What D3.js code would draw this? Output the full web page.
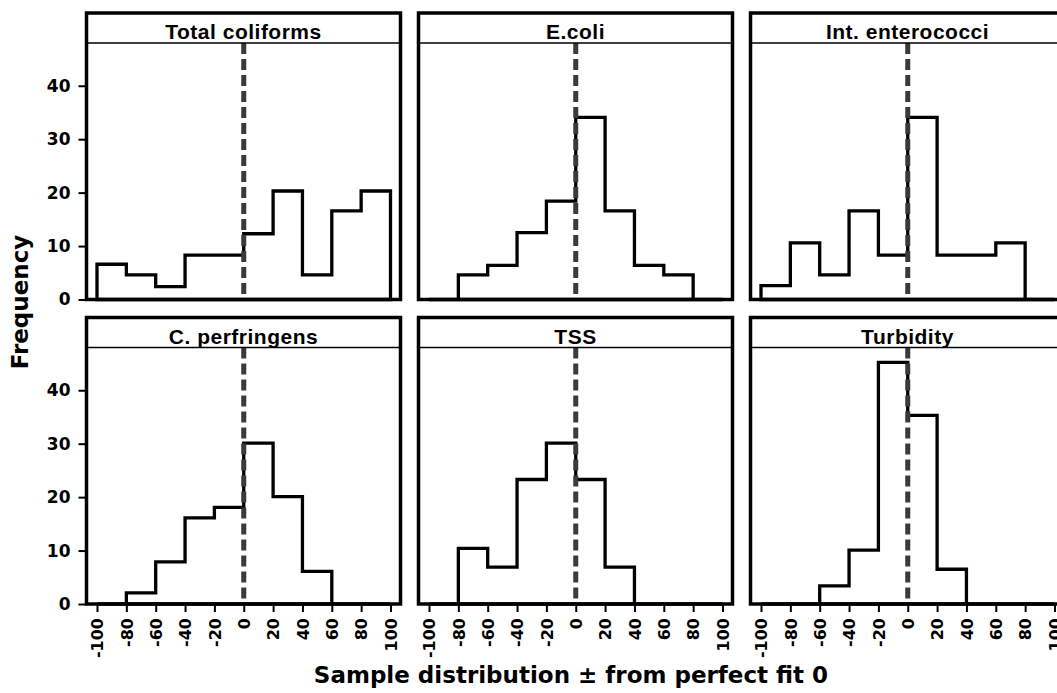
<!DOCTYPE html>
<html>
<head>
<meta charset="utf-8">
<script src="https://cdn.jsdelivr.net/npm/d3@7"></script>
<style>
body { margin: 0; background: #fff; }
</style>
</head>
<body>
<div id="container"></div>
<script>
// panel titles, in reading order
let titles = ["Total coliforms", "E.coli", "Int. enterococci", "C. perfringens", "TSS", "Turbidity"];

// frequency per 20-unit bin, from -100 to 100
let totalColiforms = [6.6, 4.6, 2.4, 8.3, 8.3, 12.3, 20.3, 4.6, 16.6, 20.3];
let eColi = [0, 4.6, 6.4, 12.5, 18.4, 34.1, 16.6, 6.4, 4.6, 0];
let enterococci = [2.6, 10.6, 4.6, 16.6, 8.3, 34.1, 8.3, 8.3, 10.6, 0];
let perfringens = [0, 2.1, 7.9, 16.1, 18.1, 30.1, 20.1, 6.1, 0, 0];
let tss = [0, 10.4, 6.9, 23.3, 30.1, 23.3, 6.9, 0, 0, 0];
let turbidity = [0, 0, 3.4, 10.1, 45.2, 35.3, 6.5, 0, 0, 0];

let binEdges = [-100, -80, -60, -40, -20, 0, 20, 40, 60, 80, 100];
let yTicks = [0, 10, 20, 30, 40];

let series = [totalColiforms, eColi, enterococci, perfringens, tss, turbidity];

let svg = d3.select('#container')
    .append("svg")
    .attr("width", 1057)
    .attr("height", 693);

let panelW = 314, panelH = 286.5, stripH = 30;
let colX = [86.5, 418.5, 750.5];
let rowY = [13, 317.5];

let x = d3.scaleLinear().domain([-100, 100]).range([10.5, 304]);
let y = d3.scaleLinear().domain([0, 48]).range([panelH, stripH]);

let line = d3.line().x(d => x(d[0])).y(d => y(d[1]));

series.forEach((values, i) => {
    let col = i % 3, row = Math.floor(i / 3);
    let g = svg.append("g")
        .attr("transform", "translate(" + colX[col] + "," + rowY[row] + ")");

    // step outline of the histogram
    let pts = [[binEdges[0], 0]];
    values.forEach((v, j) => {
        pts.push([binEdges[j], v]);
        pts.push([binEdges[j + 1], v]);
    });
    pts.push([binEdges[binEdges.length - 1], 0]);
    g.append("path")
        .attr("d", line(pts) + "Z")
        .attr("fill", "none")
        .attr("stroke", "#000")
        .attr("stroke-width", 3.3)
        .attr("stroke-linejoin", "miter");

    // reference line at 0
    g.append("line")
        .attr("x1", x(0)).attr("x2", x(0))
        .attr("y1", y(48)).attr("y2", y(0))
        .attr("stroke", "#3a3a3a")
        .attr("stroke-width", 5)
        .attr("stroke-dasharray", "11,5");

    // strip
    g.append("line")
        .attr("x1", 0).attr("x2", panelW)
        .attr("y1", stripH).attr("y2", stripH)
        .attr("stroke", "#000")
        .attr("stroke-width", 1.3);
    g.append("text")
        .attr("x", panelW / 2)
        .attr("y", stripH - 4)
        .attr("text-anchor", "middle")
        .attr("style", "font-family:'Liberation Sans',Arial,sans-serif;font-weight:bold;font-size:21px;letter-spacing:0.5px")
        .text(titles[i]);

    // frame
    g.append("rect")
        .attr("x", 0).attr("y", 0)
        .attr("width", panelW).attr("height", panelH)
        .attr("fill", "none")
        .attr("stroke", "#000")
        .attr("stroke-width", 3.5);

    if (col == 0) {
        let ya = g.append("g")
            .call(d3.axisLeft(y).tickValues(yTicks).tickSize(8).tickPadding(8));
        ya.select(".domain").remove();
        ya.selectAll("line").attr("stroke-width", 2);
        ya.selectAll("text")
            .attr("style", "font-family:'DejaVu Sans',sans-serif;font-weight:bold;font-size:17px");
    }
    if (row == 1) {
        let xa = g.append("g")
            .attr("transform", "translate(0," + panelH + ")")
            .call(d3.axisBottom(x).tickValues(binEdges).tickSize(8).tickFormat(d => String(d)));
        xa.select(".domain").remove();
        xa.selectAll("line").attr("stroke-width", 2);
        xa.selectAll("text")
            .attr("transform", "rotate(-90)")
            .attr("x", -14)
            .attr("y", 0)
            .attr("dy", "0.36em")
            .attr("text-anchor", "end")
            .attr("style", "font-family:'DejaVu Sans',sans-serif;font-weight:bold;font-size:16px");
    }
});

// axis titles
svg.append("text")
    .attr("transform", "translate(28,302) rotate(-90)")
    .attr("text-anchor", "middle")
    .attr("style", "font-family:'DejaVu Sans',sans-serif;font-weight:bold;font-size:23px")
    .text("Frequency");

svg.append("text")
    .attr("x", 571)
    .attr("y", 683)
    .attr("text-anchor", "middle")
    .attr("style", "font-family:'DejaVu Sans',sans-serif;font-weight:bold;font-size:23px")
    .text("Sample distribution ± from perfect fit 0");
</script>
</body>
</html>
